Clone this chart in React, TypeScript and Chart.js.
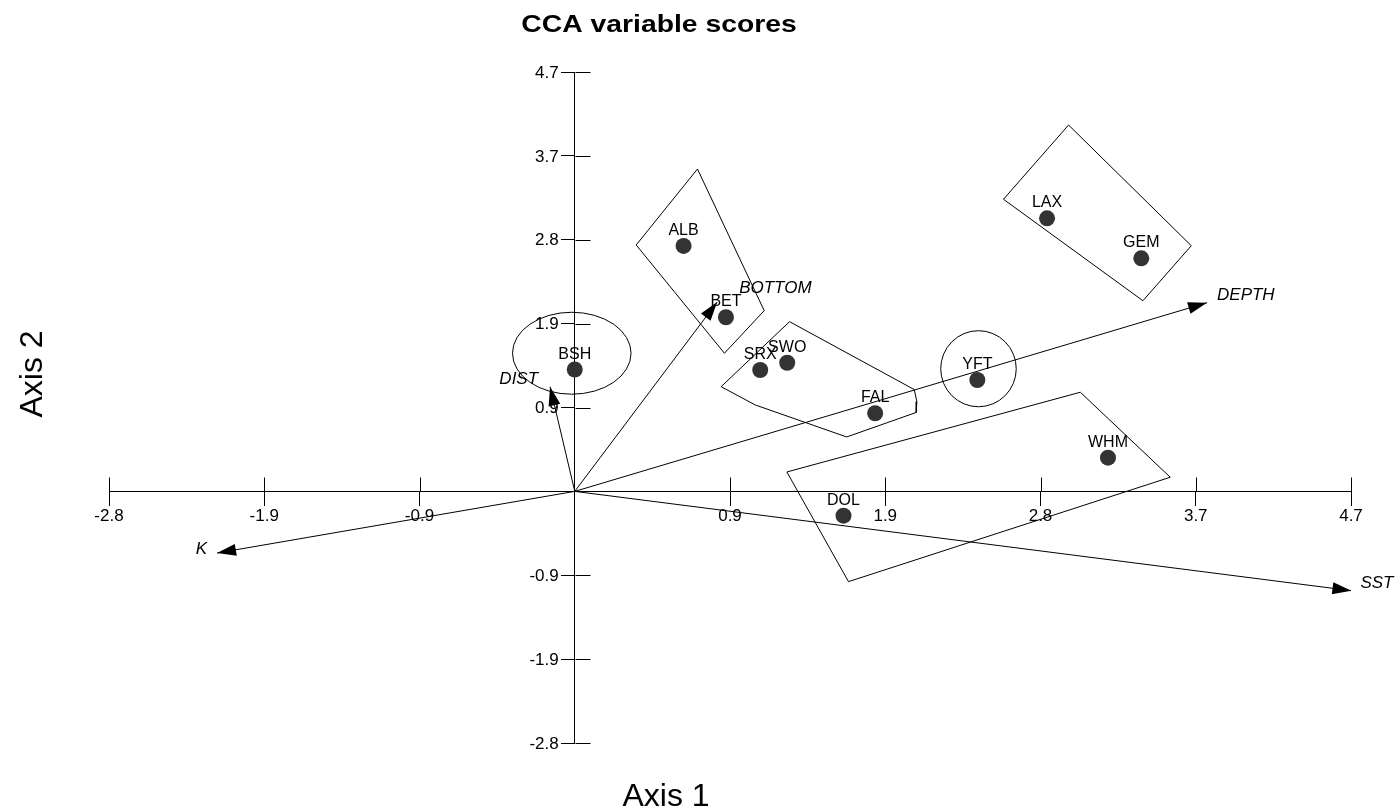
import React, { useEffect, useRef } from 'react';
import { Chart, registerables } from 'chart.js';

Chart.register(...registerables);

// ---- Species scores ----
const speciesNames = ['ALB', 'BET', 'BSH', 'SRX', 'SWO', 'FAL', 'YFT', 'LAX', 'GEM', 'WHM', 'DOL'];
const speciesX = [0.657, 0.913, 0.0, 1.12, 1.283, 1.814, 2.431, 2.852, 3.421, 3.22, 1.623];
const speciesY = [2.743, 1.946, 1.362, 1.357, 1.438, 0.873, 1.245, 3.052, 2.605, 0.377, -0.272];

// ---- Environmental vectors (biplot arrows) ----
const envNames = ['DEPTH', 'SST', 'K', 'DIST', 'BOTTOM'];
const envX = [3.818, 4.69, -2.16, -0.149, 0.86];
const envY = [2.109, -1.11, -0.689, 1.17, 2.117];

// ---- Axis ticks ----
const xTickValues = [-2.8125, -1.875, -0.9375, 0.9375, 1.875, 2.8125, 3.75, 4.6875];
const xTickLabels = ['-2.8', '-1.9', '-0.9', '0.9', '1.9', '2.8', '3.7', '4.7'];
const yTickValues = [-2.8125, -1.875, -0.9375, 0.9375, 1.875, 2.8125, 3.75, 4.6875];
const yTickLabels = ['-2.8', '-1.9', '-0.9', '0.9', '1.9', '2.8', '3.7', '4.7'];
const axisMin = -2.8125;
const axisMax = 4.6875;

// ---- Group envelopes (polygons) ----
const hullLaxGemX = [2.982, 3.723, 3.431, 2.589];
const hullLaxGemY = [4.095, 2.746, 2.131, 3.265];
const hullAlbBetX = [0.741, 1.144, 0.904, 0.371];
const hullAlbBetY = [3.603, 2.02, 1.544, 2.754];
const hullSwoX = [1.297, 2.05, 2.066, 2.062, 1.642, 1.09, 0.884];
const hullSwoY = [1.897, 1.138, 1.003, 0.882, 0.608, 0.966, 1.17];
const hullWhmX = [1.281, 3.053, 3.596, 1.653];
const hullWhmY = [0.217, 1.108, 0.158, -1.009];

// ---- Group envelopes (ellipses: BSH, YFT) ----
const ellipseCX = [-0.018, 2.438];
const ellipseCY = [1.544, 1.371];
const ellipseRX = [0.358, 0.228];
const ellipseRY = [0.458, 0.425];

// ---- Styles ----
const FONT = "'Liberation Sans', Arial, sans-serif";
const arrowLabelStyle = [
  { align: 'left', dx: 10, dy: -7 },
  { align: 'left', dx: 9, dy: -7 },
  { align: 'right', dx: -10, dy: -4 },
  { align: 'right', dx: -12, dy: -7 },
  { align: 'left', dx: 22, dy: -14 },
];

function polygon(xs: number[], ys: number[]) {
  const pts = xs.map((x, i) => ({ x, y: ys[i] }));
  pts.push({ x: xs[0], y: ys[0] });
  return pts;
}

const overlayPlugin = {
  id: 'ccaOverlay',
  afterDraw(chart: any) {
    const ctx = chart.ctx as CanvasRenderingContext2D;
    const xs = chart.scales.x;
    const ys = chart.scales.y;
    const ox = xs.getPixelForValue(0);
    const oy = ys.getPixelForValue(0);
    ctx.save();
    ctx.strokeStyle = '#000';
    ctx.fillStyle = '#000';
    ctx.lineWidth = 1;

    // upper halves of x tick marks
    ctx.beginPath();
    xTickValues.forEach((v) => {
      const p = Math.round(xs.getPixelForValue(v)) + 0.5;
      ctx.moveTo(p, Math.round(oy) + 0.5);
      ctx.lineTo(p, Math.round(oy) + 0.5 - 14);
    });
    // right halves of y tick marks
    yTickValues.forEach((v) => {
      const p = Math.round(ys.getPixelForValue(v)) + 0.5;
      ctx.moveTo(Math.round(ox) + 0.5, p);
      ctx.lineTo(Math.round(ox) + 0.5 + 15, p);
    });
    ctx.stroke();

    // y tick labels
    ctx.font = `17px ${FONT}`;
    ctx.textAlign = 'right';
    ctx.textBaseline = 'middle';
    yTickValues.forEach((v, i) => {
      ctx.fillText(yTickLabels[i], ox - 16, ys.getPixelForValue(v) + 1);
    });

    // ellipses
    ellipseCX.forEach((cx, i) => {
      const px = xs.getPixelForValue(cx);
      const py = ys.getPixelForValue(ellipseCY[i]);
      const rx = Math.abs(xs.getPixelForValue(cx + ellipseRX[i]) - px);
      const ry = Math.abs(ys.getPixelForValue(ellipseCY[i] + ellipseRY[i]) - py);
      ctx.beginPath();
      ctx.ellipse(px, py, rx, ry, 0, 0, Math.PI * 2);
      ctx.stroke();
    });

    // arrowheads + labels
    envX.forEach((ex, i) => {
      const tx = xs.getPixelForValue(ex);
      const ty = ys.getPixelForValue(envY[i]);
      const ang = Math.atan2(ty - oy, tx - ox);
      const len = 19;
      const hw = 6;
      const bx = tx - len * Math.cos(ang);
      const by = ty - len * Math.sin(ang);
      ctx.beginPath();
      ctx.moveTo(tx, ty);
      ctx.lineTo(bx + hw * Math.sin(ang), by - hw * Math.cos(ang));
      ctx.lineTo(bx - hw * Math.sin(ang), by + hw * Math.cos(ang));
      ctx.closePath();
      ctx.fill();
      const st = arrowLabelStyle[i];
      ctx.font = `italic 17px ${FONT}`;
      ctx.textAlign = st.align as CanvasTextAlign;
      ctx.textBaseline = 'middle';
      ctx.fillText(envNames[i], tx + st.dx, ty + st.dy);
    });

    // species labels
    ctx.font = `16px ${FONT}`;
    ctx.textAlign = 'center';
    ctx.textBaseline = 'alphabetic';
    speciesNames.forEach((n, i) => {
      const px = xs.getPixelForValue(speciesX[i]);
      const py = ys.getPixelForValue(speciesY[i]);
      ctx.fillText(n, px, py - 11);
    });

    // title
    ctx.save();
    ctx.font = `bold 24px ${FONT}`;
    ctx.textAlign = 'center';
    ctx.textBaseline = 'alphabetic';
    ctx.translate(659, 31.5);
    ctx.scale(1.18, 1);
    ctx.fillText('CCA variable scores', 0, 0);
    ctx.restore();

    // axis titles
    ctx.font = `32px ${FONT}`;
    ctx.textAlign = 'center';
    ctx.textBaseline = 'alphabetic';
    ctx.fillText('Axis 1', 666, 806);
    ctx.save();
    ctx.translate(42, 374);
    ctx.rotate(-Math.PI / 2);
    ctx.fillText('Axis 2', 0, 0);
    ctx.restore();

    ctx.restore();
  },
};

export default function App() {
  const canvasRef = useRef<HTMLCanvasElement | null>(null);

  useEffect(() => {
    if (!canvasRef.current) return;
    const lineDs = (data: any[]) => ({
      type: 'scatter' as const,
      data,
      showLine: true,
      borderColor: '#000',
      borderWidth: 1,
      pointRadius: 0,
      fill: false,
      tension: 0,
      order: 2,
    });
    const datasets: any[] = [
      lineDs(polygon(hullLaxGemX, hullLaxGemY)),
      lineDs(polygon(hullAlbBetX, hullAlbBetY)),
      lineDs(polygon(hullSwoX, hullSwoY)),
      lineDs(polygon(hullWhmX, hullWhmY)),
      ...envX.map((ex, i) => lineDs([{ x: 0, y: 0 }, { x: ex, y: envY[i] }])),
      {
        type: 'scatter',
        data: speciesX.map((x, i) => ({ x, y: speciesY[i] })),
        pointRadius: 8,
        pointBackgroundColor: '#333333',
        pointBorderWidth: 0,
        borderWidth: 0,
        showLine: false,
        order: 1,
      },
    ];

    const chart = new Chart(canvasRef.current, {
      type: 'scatter',
      data: { datasets },
      options: {
        animation: false,
        responsive: false,
        devicePixelRatio: 1,
        events: [],
        layout: { padding: { left: 109, right: 46, top: 72, bottom: 69 } },
        plugins: { legend: { display: false }, title: { display: false }, tooltip: { enabled: false } },
        scales: {
          x: {
            type: 'linear',
            min: axisMin,
            max: axisMax,
            position: { y: 0 } as any,
            afterBuildTicks: (s: any) => {
              s.ticks = xTickValues.map((v) => ({ value: v }));
            },
            grid: { display: true, drawOnChartArea: false, drawTicks: true, tickLength: 14, color: '#000', tickColor: '#000', tickWidth: 1 },
            border: { display: true, color: '#000', width: 1 },
            ticks: {
              autoSkip: false,
              maxRotation: 0,
              padding: 1,
              color: '#000',
              font: { family: FONT, size: 17 },
              callback: (_v: any, idx: number) => xTickLabels[idx],
            },
          },
          y: {
            type: 'linear',
            min: axisMin,
            max: axisMax,
            position: { x: 0 } as any,
            afterBuildTicks: (s: any) => {
              s.ticks = yTickValues.map((v) => ({ value: v }));
            },
            grid: { display: true, drawOnChartArea: false, drawTicks: true, tickLength: 13, color: '#000', tickColor: '#000', tickWidth: 1 },
            border: { display: true, color: '#000', width: 1 },
            ticks: { display: false },
          },
        },
      },
      plugins: [overlayPlugin],
    } as any);
    return () => chart.destroy();
  }, []);

  return (
    <div style={{ position: 'fixed', left: 0, top: 0, width: 1397, height: 812, background: '#fff' }}>
      <canvas ref={canvasRef} width={1397} height={812} style={{ display: 'block' }} />
    </div>
  );
}
